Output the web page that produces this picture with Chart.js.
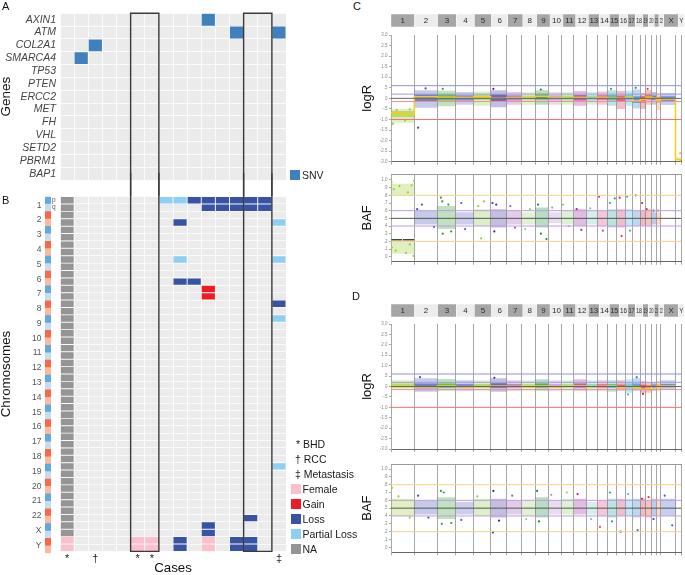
<!DOCTYPE html>
<html>
<head>
<meta charset="utf-8">
<title>Mutations, copy number and genome profiles</title>
<script src="https://cdn.jsdelivr.net/npm/chart.js@4.4.1/dist/chart.umd.min.js"></script>
<style>
  html, body { margin: 0; padding: 0; background: #fff; }
  #fig { position: relative; width: 685px; height: 575px; overflow: hidden; font-family: "Liberation Sans", Arial, sans-serif; }
  #fig canvas { position: absolute; }
  .txt { position: absolute; white-space: nowrap; line-height: 12px; font-size: 10.5px; color: #1a1a1a; }
  .letter { position: absolute; font-size: 11px; line-height: 11px; color: #111; }
  .sw { position: absolute; width: 9.5px; height: 10px; }
  .arm { position: absolute; font-size: 6.5px; line-height: 7px; color: #555; }
</style>
</head>
<body>
<div id="fig">
  <canvas id="cA" width="290" height="197" style="left:0;top:0"></canvas>
  <canvas id="cB" width="290" height="402" style="left:0;top:173px"></canvas>
  <canvas id="cStrip" width="6" height="388" style="left:45px;top:187px"></canvas>
  <canvas id="cHeadC" width="293" height="13" style="left:391px;top:14px"></canvas>
  <canvas id="cLogC" width="335" height="140" style="left:350px;top:28px"></canvas>
  <canvas id="cBafC" width="335" height="100" style="left:350px;top:168px"></canvas>
  <canvas id="cHeadD" width="293" height="13" style="left:391px;top:304px"></canvas>
  <canvas id="cLogD" width="335" height="140" style="left:350px;top:316px"></canvas>
  <canvas id="cBafD" width="335" height="100" style="left:350px;top:458px"></canvas>

  <div class="letter" style="left:2px;top:1px">A</div>
  <div class="letter" style="left:2px;top:195px">B</div>
  <div class="letter" style="left:353px;top:1px">C</div>
  <div class="letter" style="left:352px;top:291px">D</div>

  <div class="arm" style="left:52px;top:196px">p</div>
  <div class="arm" style="left:52px;top:203px">q</div>

  <div class="sw" style="left:290px;top:170px;background:#3f80bd"></div>
  <div class="txt" style="left:302px;top:169px">SNV</div>

  <div class="txt" style="left:296px;top:438px">*&nbsp;BHD</div>
  <div class="txt" style="left:295px;top:453px">†&nbsp;RCC</div>
  <div class="txt" style="left:295px;top:468px">‡&nbsp;Metastasis</div>
  <div class="sw" style="left:291px;top:484px;background:#fbc0cb"></div>
  <div class="txt" style="left:302.5px;top:483px">Female</div>
  <div class="sw" style="left:291px;top:499px;background:#ec1c24"></div>
  <div class="txt" style="left:302.5px;top:498px">Gain</div>
  <div class="sw" style="left:291px;top:514px;background:#3953a4"></div>
  <div class="txt" style="left:302.5px;top:513px">Loss</div>
  <div class="sw" style="left:291px;top:529px;background:#8ecff5"></div>
  <div class="txt" style="left:302.5px;top:528px">Partial Loss</div>
  <div class="sw" style="left:291px;top:544px;background:#959595"></div>
  <div class="txt" style="left:302.5px;top:543px">NA</div>
</div>

<script>
// ---------- panel A / B data ----------
const genes = ['AXIN1', 'ATM', 'COL2A1', 'SMARCA4', 'TP53', 'PTEN', 'ERCC2', 'MET', 'FH', 'VHL', 'SETD2', 'PBRM1', 'BAP1'];
const caseMarks = ['*', '', '†', '', '', '*', '*', '', '', '', '', '', '', '', '', '‡'];
const boxedCases = [[5, 6], [13, 14]];
const snvCells = [['AXIN1', 10], ['ATM', 12], ['ATM', 15], ['COL2A1', 2], ['SMARCA4', 1]];

const chromNames = ['1', '2', '3', '4', '5', '6', '7', '8', '9', '10', '11', '12', '13', '14', '15', '16', '17', '18', '19', '20', '21', '22', 'X', 'Y'];
const chromLengths = [249, 243, 198, 191, 181, 171, 159, 146, 141, 136, 135, 134, 115, 107, 103, 90, 81, 78, 59, 63, 48, 51, 155, 59];
const chromRows = chromNames.flatMap(c => [c + 'p', c + 'q']);

const naCases = [0];
const femaleCells = [['Yp', 0], ['Yq', 0], ['Yp', 5], ['Yq', 5], ['Yp', 6], ['Yq', 6], ['Yp', 10], ['Yq', 10]];
const gainCells = [['7p', 10], ['7q', 10]];
const lossCells = [['1p', 9], ['1p', 10], ['1p', 11], ['1p', 12], ['1p', 13], ['1p', 14],
  ['1q', 10], ['1q', 11], ['1q', 12], ['1q', 13], ['1q', 14], ['2q', 8], ['6q', 8], ['6q', 9],
  ['8p', 15], ['22q', 13], ['Xp', 10], ['Xq', 10], ['Yp', 8], ['Yq', 8], ['Yp', 12], ['Yq', 12], ['Yp', 13], ['Yq', 13]];
const partialLossCells = [['1p', 7], ['1p', 8], ['2q', 15], ['5p', 8], ['5p', 15], ['9p', 15], ['19p', 15]];

// ---------- panel C / D data ----------
const chromColors = ['#9acd32', '#3f4fb5', '#2f9e32', '#5a5ac8', '#8ccc4a', '#3b2a9c', '#9a5bbd', '#9ccf6a',
  '#138a3c', '#b58ad0', '#8fcf70', '#a1259a', '#6fc7b5', '#e0468a', '#1fa3a0', '#d0285a', '#3cb4e0', '#2f7fc0',
  '#c8203c', '#e23a2a', '#3050b8', '#e08a4a', '#3a62c8', '#f2c200'];
const logRTicks = [3, 2.5, 2, 1.5, 1, 0.5, 0, -0.5, -1, -1.5, -2, -2.5, -3];
const bafTicks = [1, 0.9, 0.8, 0.7, 0.6, 0.5, 0.4, 0.3, 0.2, 0.1, 0];
const logRRefLines = [[0.6, '#8f8fe0'], [0.2, '#9d9de6'], [0, '#666'], [-0.15, '#f29090'], [-1.0, '#ee6f6f']];
const bafRefLines = [[0.8, '#f6d28a'], [0.6, '#c09be0'], [0.5, '#555'], [0.4, '#c09be0'], [0.2, '#f6d28a']];

// [chromosome, low, high]
const cLogROuter = [['1', -1.15, -0.5], ['2', -0.45, 0.38], ['3', -0.38, 0.36], ['4', -0.3, 0.3], ['5', -0.35, 0.32],
  ['6', -0.42, 0.38], ['7', -0.3, 0.3], ['8', -0.32, 0.3], ['9', -0.3, 0.38], ['10', -0.3, 0.3], ['11', -0.3, 0.3],
  ['12', -0.35, 0.35], ['13', -0.3, 0.3], ['14', -0.3, 0.32], ['15', -0.35, 0.38], ['16', -0.5, 0.35],
  ['17', -0.35, 0.36], ['18', -0.48, 0.42], ['19', -0.5, 0.25], ['20', -0.3, 0.4], ['21', -0.3, 0.3],
  ['22', -0.55, 0.22], ['X', -0.32, 0.25], ['Y', -3.0, -2.78]];
const cLogRCore = [['1', -0.9, -0.6], ['2', -0.12, 0.2], ['3', -0.1, 0.2], ['4', -0.1, 0.15], ['5', -0.08, 0.18],
  ['6', -0.12, 0.2], ['7', -0.1, 0.15], ['8', -0.1, 0.14], ['9', -0.05, 0.22], ['10', -0.1, 0.15], ['11', -0.1, 0.14],
  ['12', -0.1, 0.16], ['13', -0.1, 0.14], ['14', -0.08, 0.16], ['15', -0.1, 0.16], ['16', -0.15, 0.14],
  ['17', -0.1, 0.18], ['18', -0.22, 0.1], ['19', -0.2, 0.1], ['20', -0.05, 0.2], ['21', -0.08, 0.14],
  ['22', -0.2, 0.08], ['X', -0.12, 0.1]];
// [chromosome, start Mb, end Mb, value]
const cLogRSegments = [['1', 0, 125, -0.68], ['1', 125, 249, -0.77], ['2', 0, 243, 0.08], ['3', 0, 198, 0.05],
  ['4', 0, 191, 0.04], ['5', 0, 181, 0.07], ['6', 0, 171, 0.0], ['7', 0, 159, 0.03], ['8', 0, 146, 0.02],
  ['9', 0, 141, 0.1], ['10', 0, 136, 0.03], ['11', 0, 135, 0.02], ['12', 0, 134, 0.04], ['13', 0, 115, 0.0],
  ['14', 0, 107, 0.04], ['15', 0, 103, 0.02], ['16', 0, 90, 0.0], ['17', 0, 81, 0.05], ['18', 0, 78, -0.12],
  ['19', 0, 59, -0.05], ['20', 0, 63, 0.05], ['21', 0, 48, 0.02], ['22', 0, 51, -0.08], ['X', 0, 155, -0.03],
  ['Y', 0, 59, -2.9]];
// [chromosome, position Mb, value]
const cLogRDots = [['1', 20, -1.2], ['1', 60, -0.55], ['1', 150, -1.05], ['1', 200, -0.52], ['2', 40, -1.39],
  ['2', 120, 0.47], ['3', 60, 0.45], ['6', 30, 0.45], ['9', 60, 0.42], ['15', 40, 0.45], ['18', 30, 0.5],
  ['20', 20, 0.45], ['Y', 50, -2.6], ['Y', 56, -2.95]];

const cBafBands = [['1', 0.80, 0.95], ['1', 0.04, 0.20], ['2', 0.42, 0.60], ['3', 0.36, 0.66], ['4', 0.42, 0.58],
  ['5', 0.40, 0.62], ['6', 0.38, 0.62], ['7', 0.42, 0.60], ['8', 0.42, 0.58], ['9', 0.38, 0.64], ['10', 0.44, 0.58],
  ['11', 0.42, 0.60], ['12', 0.40, 0.62], ['13', 0.42, 0.60], ['14', 0.40, 0.60], ['15', 0.38, 0.62],
  ['16', 0.38, 0.62], ['17', 0.40, 0.62], ['18', 0.40, 0.60], ['19', 0.40, 0.60], ['20', 0.40, 0.62],
  ['21', 0.42, 0.58], ['22', 0.42, 0.58]];
const cBafSegments = [['1', 4, 118, 0.22], ['1', 126, 246, 0.22]];
const cBafDots = [['1', 5, 0.97], ['1', 30, 0.88], ['1', 90, 0.92], ['1', 180, 0.84], ['1', 220, 0.93], ['1', 245, 0.99],
  ['1', 10, 0.12], ['1', 50, 0.08], ['1', 160, 0.05], ['1', 200, 0.16], ['1', 240, 0.01],
  ['2', 30, 0.62], ['2', 80, 0.68], ['2', 210, 0.39], ['3', 40, 0.77], ['3', 55, 0.72], ['3', 60, 0.3],
  ['3', 120, 0.68], ['3', 150, 0.33], ['4', 60, 0.7], ['4', 100, 0.36], ['5', 50, 0.66], ['5', 80, 0.24],
  ['5', 110, 0.72], ['6', 20, 0.7], ['6', 40, 0.33], ['6', 60, 0.68], ['7', 40, 0.66], ['7', 90, 0.38],
  ['8', 40, 0.36], ['8', 90, 0.62], ['9', 30, 0.68], ['9', 60, 0.3], ['9', 120, 0.23], ['10', 40, 0.64],
  ['11', 20, 0.68], ['11', 80, 0.4], ['12', 30, 0.62], ['12', 80, 0.35], ['13', 40, 0.63], ['14', 20, 0.78],
  ['14', 60, 0.34], ['15', 30, 0.7], ['15', 80, 0.76], ['16', 30, 0.77], ['16', 50, 0.27], ['17', 20, 0.78],
  ['17', 50, 0.34], ['18', 30, 0.8], ['19', 20, 0.7], ['20', 10, 0.62], ['21', 20, 0.6], ['22', 20, 0.6]];

const dLogROuter = [['1', -0.15, 0.3], ['2', -0.25, 0.4], ['3', -0.2, 0.36], ['4', -0.2, 0.3], ['5', -0.2, 0.3],
  ['6', -0.25, 0.4], ['7', -0.2, 0.3], ['8', -0.2, 0.3], ['9', -0.2, 0.35], ['10', -0.2, 0.3], ['11', -0.2, 0.3],
  ['12', -0.2, 0.35], ['13', -0.2, 0.3], ['14', -0.2, 0.3], ['15', -0.25, 0.3], ['16', -0.2, 0.3],
  ['17', -0.3, 0.35], ['18', -0.2, 0.4], ['19', -0.3, 0.25], ['20', -0.3, 0.2], ['21', -0.2, 0.2],
  ['22', -0.2, 0.25], ['X', -0.15, 0.3]];
const dLogRCore = [['1', -0.05, 0.14], ['2', -0.08, 0.14], ['3', -0.06, 0.14], ['4', -0.06, 0.12], ['5', -0.06, 0.12],
  ['6', -0.06, 0.16], ['7', -0.06, 0.12], ['8', -0.06, 0.12], ['9', -0.05, 0.14], ['10', -0.06, 0.12],
  ['11', -0.06, 0.12], ['12', -0.05, 0.14], ['13', -0.06, 0.12], ['14', -0.06, 0.12], ['15', -0.06, 0.12],
  ['16', -0.08, 0.1], ['17', -0.1, 0.14], ['18', -0.08, 0.15], ['19', -0.15, 0.08], ['20', -0.15, 0.06],
  ['21', -0.06, 0.1], ['22', -0.08, 0.1], ['X', -0.04, 0.12]];
const dLogRSegments = [['1', 0, 249, 0.0], ['2', 0, 243, -0.02], ['3', 0, 198, 0.02], ['4', 0, 191, -0.02],
  ['5', 0, 181, 0.0], ['6', 0, 171, 0.03], ['7', 0, 159, 0.0], ['8', 0, 146, -0.02], ['9', 0, 141, 0.02],
  ['10', 0, 136, -0.02], ['11', 0, 135, 0.0], ['12', 0, 134, 0.02], ['13', 0, 115, -0.02], ['14', 0, 107, 0.0],
  ['15', 0, 103, 0.02], ['16', 0, 90, -0.03], ['17', 0, 81, 0.0], ['18', 0, 78, -0.05], ['19', 0, 59, -0.12],
  ['20', 0, 63, -0.08], ['21', 0, 48, 0.0], ['22', 0, 51, -0.03], ['X', 0, 155, 0.02]];
const dLogRDots = [['2', 60, 0.45], ['6', 40, 0.42], ['17', 30, -0.38], ['18', 40, 0.45], ['19', 30, -0.35]];

const dBafBands = [['1', 0.40, 0.62], ['2', 0.42, 0.60], ['3', 0.36, 0.64], ['4', 0.42, 0.58], ['5', 0.40, 0.62],
  ['6', 0.38, 0.62], ['7', 0.42, 0.60], ['8', 0.40, 0.60], ['9', 0.38, 0.64], ['10', 0.42, 0.60],
  ['11', 0.42, 0.62], ['12', 0.42, 0.62], ['13', 0.42, 0.58], ['14', 0.40, 0.60], ['15', 0.38, 0.62],
  ['16', 0.40, 0.62], ['17', 0.40, 0.62], ['18', 0.38, 0.62], ['19', 0.40, 0.62], ['20', 0.38, 0.60],
  ['21', 0.40, 0.62], ['22', 0.40, 0.62], ['X', 0.40, 0.62]];
const dBafDots = [['1', 10, 0.76], ['1', 80, 0.65], ['1', 200, 0.38], ['2', 40, 0.66], ['2', 150, 0.38],
  ['3', 40, 0.72], ['3', 50, 0.3], ['3', 70, 0.7], ['3', 150, 0.31], ['4', 60, 0.35], ['5', 40, 0.65],
  ['6', 25, 0.19], ['6', 30, 0.72], ['6', 90, 0.34], ['7', 60, 0.66], ['8', 50, 0.36], ['9', 20, 0.72],
  ['9', 40, 0.33], ['10', 30, 0.67], ['11', 60, 0.7], ['12', 40, 0.68], ['13', 50, 0.36], ['14', 30, 0.26],
  ['15', 30, 0.7], ['15', 50, 0.33], ['16', 40, 0.2], ['17', 30, 0.68], ['18', 50, 0.22], ['19', 20, 0.62],
  ['20', 30, 0.64], ['21', 20, 0.36], ['X', 40, 0.66], ['X', 120, 0.28]];

// ---------- shared ----------
Chart.defaults.font.family = '"Liberation Sans", Arial, Helvetica, sans-serif';
Chart.defaults.animation = false;
Chart.defaults.responsive = false;
Chart.defaults.events = [];
Chart.defaults.plugins.legend.display = false;
Chart.defaults.plugins.tooltip.enabled = false;

const COL = { snv: '#3f80bd', na: '#959595', female: '#fbc0cb', gain: '#ec1c24', loss: '#3953a4', partial: '#8ecff5' };

const chromOffsets = [];
let genomeLen = 0;
chromLengths.forEach(l => { chromOffsets.push(genomeLen); genomeLen += l; });
const gx = (chrom, mb) => chromOffsets[chromNames.indexOf(chrom)] + mb;

function hexA(hex, a) {
  const n = parseInt(hex.slice(1), 16);
  return 'rgba(' + (n >> 16) + ',' + ((n >> 8) & 255) + ',' + (n & 255) + ',' + a + ')';
}

const cells = list => list.map(([row, col]) => ({ y: row, x: [col, col + 1] }));
const tile = (list, color) => ({
  data: cells(list), backgroundColor: color, borderColor: 'rgba(255,255,255,0.45)', borderWidth: 0.8,
  borderSkipped: false, grouped: false, barPercentage: 1, categoryPercentage: 1
});

// grey panel behind the tiles
const gridBg = {
  id: 'gridBg',
  beforeDraw(chart) {
    const { ctx, chartArea: a } = chart;
    ctx.save();
    ctx.fillStyle = '#ebebeb';
    ctx.fillRect(a.left, a.top, a.width, a.height);
    ctx.restore();
  }
};

// outline round the boxed cases, running across A and B
const caseBox = {
  id: 'caseBox',
  afterDraw(chart, args, opts) {
    const { ctx, chartArea: a, scales: { x } } = chart;
    ctx.save();
    ctx.strokeStyle = '#3a3a3a';
    ctx.lineWidth = 1.4;
    boxedCases.forEach(([c0, c1]) => {
      const l = x.getPixelForValue(c0), r = x.getPixelForValue(c1 + 1);
      ctx.beginPath();
      if (opts.open === 'bottom') {
        ctx.moveTo(l, chart.height); ctx.lineTo(l, a.top); ctx.lineTo(r, a.top); ctx.lineTo(r, chart.height);
      } else {
        ctx.moveTo(l, 0); ctx.lineTo(l, a.bottom); ctx.lineTo(r, a.bottom); ctx.lineTo(r, 0);
      }
      ctx.stroke();
    });
    ctx.restore();
  }
};

function caseAxis(showMarks, height) {
  return {
    type: 'linear', min: 0, max: caseMarks.length,
    afterBuildTicks: s => { s.ticks = caseMarks.concat(['']).map((m, i) => ({ value: i })); },
    ticks: {
      display: showMarks, autoSkip: false, maxRotation: 0, labelOffset: 7.06, padding: 1,
      font: { size: 11 }, color: '#222', callback: (v, i) => caseMarks[i] || ''
    },
    grid: { color: '#fff', lineWidth: 0.8, drawTicks: false },
    border: { display: false },
    afterFit: s => { s.height = height; }
  };
}

// ---------- A: genes ----------
new Chart(document.getElementById('cA'), {
  type: 'bar',
  data: { labels: genes, datasets: [tile(snvCells, COL.snv)] },
  options: {
    indexAxis: 'y',
    layout: { padding: { top: 13.3, right: 4, bottom: 0, left: 0 } },
    scales: {
      x: caseAxis(false, 17),
      y: {
        type: 'category',
        ticks: { autoSkip: false, font: { size: 10.5, style: 'italic' }, color: '#444', padding: 4 },
        grid: { color: '#fff', lineWidth: 0.8, offset: true, drawTicks: false },
        border: { display: false },
        title: { display: true, text: 'Genes', font: { size: 13.5, lineHeight: 1 }, color: '#111', padding: 0 },
        afterFit: s => { s.width = 60; }
      }
    },
    plugins: { caseBox: { open: 'bottom' } }
  },
  plugins: [gridBg, caseBox]
});

// ---------- B: chromosome arms ----------
const naCells = chromRows.filter(r => r[0] !== 'Y').flatMap(r => naCases.map(c => [r, c]));
const caseX = caseAxis(true, 21.7);
caseX.title = { display: true, text: 'Cases', font: { size: 13.3, lineHeight: 1 }, color: '#111', padding: { top: 0, bottom: -2 } };

const cvB = document.getElementById('cB');
const chartB = new Chart(cvB, {
  type: 'bar',
  data: {
    labels: chromRows,
    datasets: [tile(naCells, COL.na), tile(femaleCells, COL.female), tile(gainCells, COL.gain),
      tile(lossCells, COL.loss), tile(partialLossCells, COL.partial)]
  },
  options: {
    indexAxis: 'y',
    layout: { padding: { top: 0, right: 4, bottom: 0, left: 0 } },
    scales: {
      x: caseX,
      y: {
        type: 'category',
        ticks: {
          autoSkip: false, font: { size: 8.5 }, color: '#555', padding: 18.5, labelOffset: 5,
          callback: (v, i) => (i % 2 === 0 ? chromNames[i / 2] : '')
        },
        grid: { color: '#fff', lineWidth: 0.7, offset: true, drawTicks: false },
        border: { display: false },
        title: { display: true, text: 'Chromosomes', font: { size: 13.3, lineHeight: 1 }, color: '#111', padding: 0 },
        afterFit: s => { s.width = 60; }
      }
    },
    plugins: { caseBox: { open: 'top' } }
  },
  plugins: [gridBg, caseBox]
});
// the tick padding pushes the plot down inside its canvas: move the canvas so the rows start under panel A
const bShift = 196.7 - chartB.chartArea.top;
cvB.style.top = bShift + 'px';
const bHeight = Math.round(575 - bShift);
if (bHeight !== cvB.height) chartB.resize(290, bHeight);
cvB.style.top = (196.7 - chartB.chartArea.top) + 'px';

// arm colour strip
new Chart(document.getElementById('cStrip'), {
  type: 'bar',
  data: {
    labels: chromRows,
    datasets: [{
      data: chromRows.map(r => ({ y: r, x: [0, 1] })),
      backgroundColor: chromRows.map((r, i) => {
        const odd = Math.floor(i / 2) % 2 === 0;
        const p = i % 2 === 0;
        return odd ? (p ? '#62a9dc' : '#c6ddf1') : (p ? '#f8694c' : '#fdb9a0');
      }),
      borderWidth: 0, barPercentage: 1, categoryPercentage: 1
    }]
  },
  options: {
    indexAxis: 'y',
    layout: { padding: { top: 9.7, bottom: 21.7, left: 0, right: 0 } },
    scales: { x: { type: 'linear', min: 0, max: 1, display: false }, y: { type: 'category', display: false } }
  }
});

// ---------- C / D: genome plots ----------
const chromLabels = {
  id: 'chromLabels',
  afterDatasetsDraw(chart) {
    const { ctx, chartArea: a, scales: { x } } = chart;
    ctx.save();
    ctx.textAlign = 'center';
    ctx.textBaseline = 'middle';
    ctx.font = '8px "Liberation Sans", Arial, sans-serif';
    ctx.fillStyle = '#2a2a2a';
    chromNames.forEach((name, i) => {
      const l = x.getPixelForValue(chromOffsets[i]);
      const r = x.getPixelForValue(chromOffsets[i] + chromLengths[i]);
      ctx.fillText(name, (l + r) / 2, (a.top + a.bottom) / 2 + 0.5, Math.max(r - l - 1.5, 3));
    });
    ctx.restore();
  }
};

function header(id) {
  new Chart(document.getElementById(id), {
    type: 'bar',
    data: {
      labels: ['chr'],
      datasets: [{
        data: chromNames.map((n, i) => ({ y: 'chr', x: [chromOffsets[i], chromOffsets[i] + chromLengths[i]] })),
        backgroundColor: chromNames.map((n, i) => (i % 2 === 0 ? '#a6a6a6' : '#ececec')),
        borderColor: '#fff', borderWidth: 0.5, borderSkipped: false,
        barPercentage: 1, categoryPercentage: 1
      }]
    },
    options: {
      indexAxis: 'y',
      layout: { padding: 0 },
      scales: { x: { type: 'linear', min: 0, max: genomeLen, display: false }, y: { type: 'category', display: false } }
    },
    plugins: [chromLabels]
  });
}

function fmtTick(v) {
  if (v === 0) return '0';
  if (Math.abs(v) < 1) return (v < 0 ? '-' : '') + Math.abs(v).toFixed(1).slice(1);
  return v.toFixed(1);
}

function segPoints(segs) {
  const pts = [];
  segs.forEach(([c, s, e, v], k) => {
    pts.push({ x: gx(c, s), y: v }, { x: gx(c, e), y: v });
    const next = segs[k + 1];
    if (next && gx(next[0], next[1]) !== gx(c, e)) pts.push({ x: gx(c, e) + 0.5, y: null });
  });
  return pts;
}

function bandSets(list, alpha, order) {
  return list.map(([c, lo, hi]) => {
    const i = chromNames.indexOf(c);
    return {
      type: 'line',
      data: [{ x: chromOffsets[i], y: hi }, { x: chromOffsets[i] + chromLengths[i], y: hi }],
      fill: { value: lo }, backgroundColor: hexA(chromColors[i], alpha),
      borderWidth: 0, pointRadius: 0, order
    };
  });
}

function genomePlot(id, cfg) {
  const datasets = [];
  cfg.refLines.forEach(([v, color]) => datasets.push({
    type: 'line', data: [{ x: 0, y: v }, { x: genomeLen, y: v }],
    borderColor: color, borderWidth: 1, pointRadius: 0, order: 0
  }));
  if (cfg.segments) {
    datasets.push({
      type: 'line', data: segPoints(cfg.segments), borderColor: cfg.segColor,
      borderWidth: 1.5, pointRadius: 0, spanGaps: false, order: 1
    });
  }
  datasets.push({
    type: 'scatter', data: cfg.dots.map(([c, mb, v]) => ({ x: gx(c, mb), y: v })),
    pointRadius: 1.1, pointBorderWidth: 0,
    pointBackgroundColor: cfg.dots.map(d => chromColors[chromNames.indexOf(d[0])]), order: 2
  });
  if (cfg.cores) bandSets(cfg.cores, 0.6, 3).forEach(d => datasets.push(d));
  bandSets(cfg.bands, cfg.bandAlpha, 4).forEach(d => datasets.push(d));

  const scales = {
    x: {
      type: 'linear', min: 0, max: genomeLen,
      afterBuildTicks: s => { s.ticks = chromOffsets.concat([genomeLen]).map(v => ({ value: v })); },
      ticks: { display: false },
      grid: { color: '#a6a6a6', lineWidth: 1, tickLength: 3, drawTicks: true },
      border: { display: true, color: '#666', width: 1 },
      afterFit: s => { s.height = cfg.bottomH; }
    },
    y: {
      type: 'linear', min: cfg.min, max: cfg.max,
      afterBuildTicks: s => { s.ticks = cfg.ticks.map(v => ({ value: v })); },
      ticks: { font: { size: 4.5 }, color: '#888', padding: 1.5, callback: fmtTick },
      grid: { display: true, drawOnChartArea: false, tickLength: 2, color: '#aaa' },
      border: { display: true, color: '#aaa' },
      title: { display: true, text: cfg.title, font: { size: 13 }, color: '#111', padding: { top: cfg.titlePad, bottom: 0 } },
      afterFit: s => { s.width = 41; }
    }
  };
  if (cfg.topBorder) {
    scales.x2 = {
      type: 'linear', position: 'top', min: 0, max: genomeLen,
      ticks: { display: false }, grid: { display: false, drawTicks: false },
      border: { display: true, color: '#999' },
      afterFit: s => { s.height = 0; }
    };
  }
  new Chart(document.getElementById(id), {
    type: 'line',
    data: { datasets },
    options: {
      layout: { padding: { top: cfg.topPad, right: 1, bottom: 0, left: 0 } },
      scales
    }
  });
}

header('cHeadC');
header('cHeadD');

genomePlot('cLogC', {
  title: 'logR', min: -3, max: 3, ticks: logRTicks, refLines: logRRefLines,
  bands: cLogROuter, cores: cLogRCore, bandAlpha: 0.3, segments: cLogRSegments, segColor: '#f3cf1a',
  dots: cLogRDots, topPad: 7, bottomH: 6.3, titlePad: 10
});
genomePlot('cBafC', {
  title: 'BAF', min: -0.065, max: 1.078, ticks: bafTicks, refLines: bafRefLines,
  bands: cBafBands, bandAlpha: 0.3, segments: cBafSegments, segColor: '#444',
  dots: cBafDots, topPad: 6, bottomH: 6.3, titlePad: 10, topBorder: true
});
genomePlot('cLogD', {
  title: 'logR', min: -3, max: 3, ticks: logRTicks, refLines: logRRefLines,
  bands: dLogROuter, cores: dLogRCore, bandAlpha: 0.3, segments: dLogRSegments, segColor: '#f3cf1a',
  dots: dLogRDots, topPad: 8, bottomH: 7, titlePad: 10
});
genomePlot('cBafD', {
  title: 'BAF', min: -0.064, max: 1.064, ticks: bafTicks, refLines: bafRefLines,
  bands: dBafBands, bandAlpha: 0.3, segments: null, segColor: '#444',
  dots: dBafDots, topPad: 6, bottomH: 5.7, titlePad: 10, topBorder: true
});
</script>
</body>
</html>
